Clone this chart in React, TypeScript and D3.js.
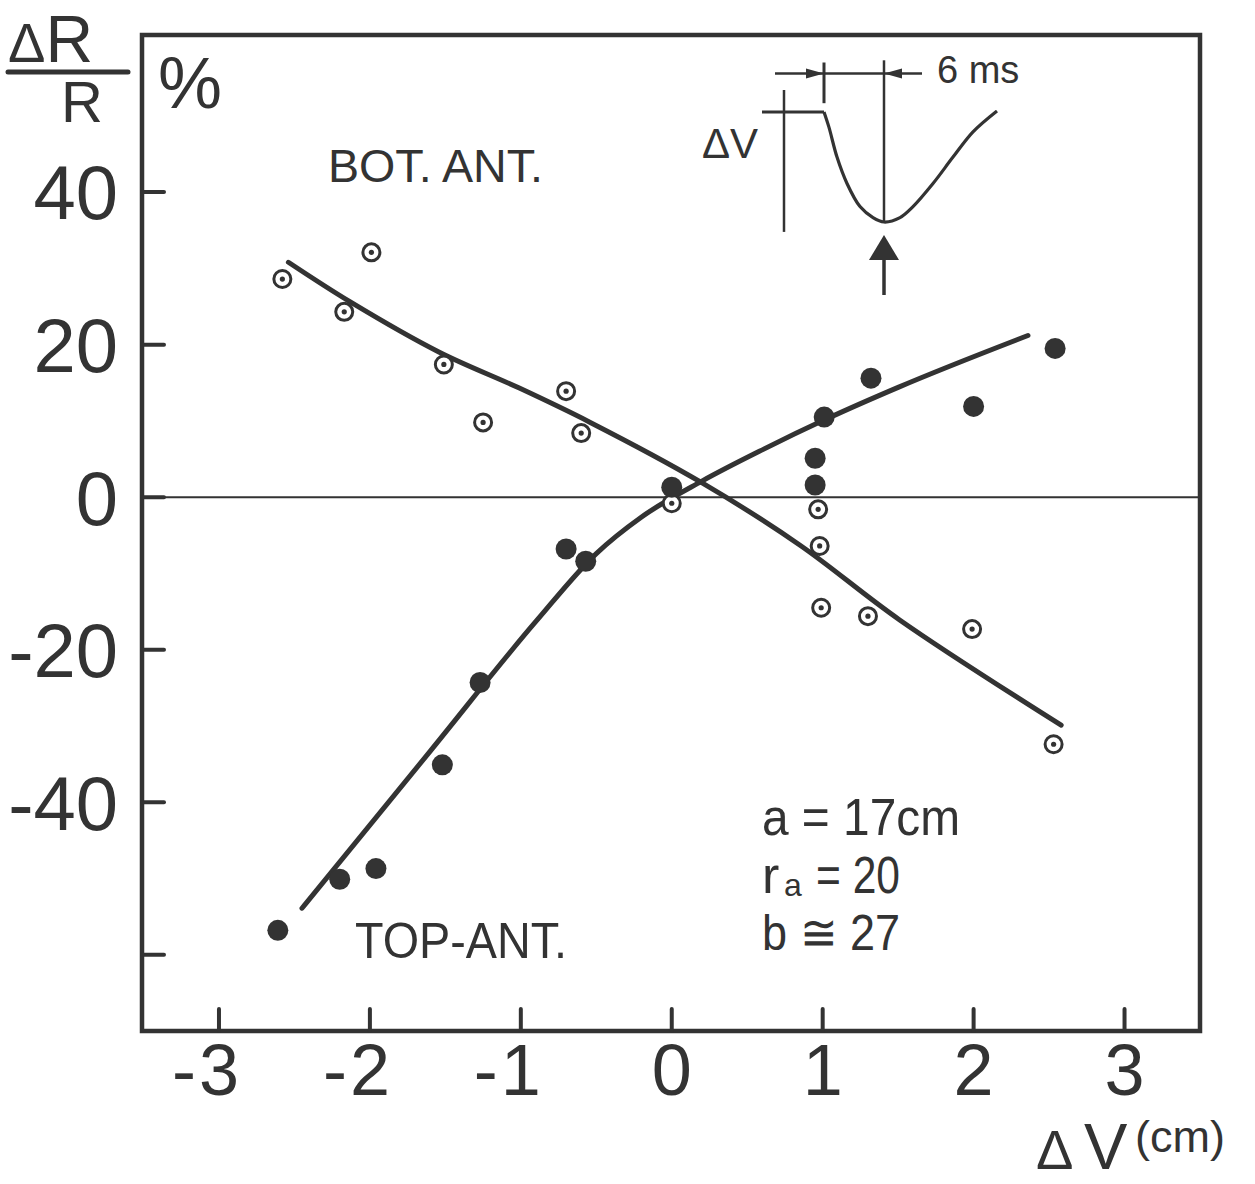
import React from 'react';
import * as d3 from 'd3';

// ---- data ----
const xTicks = [-3, -2, -1, 0, 1, 2, 3];
const yTicks = [40, 20, 0, -20, -40, -60];
const yTickLabels = ['40', '20', '0', '-20', '-40', ''];

// BOT. ANT. (open circles with centre dot)
const botX = [-2.58, -2.17, -1.99, -1.51, -1.25, -0.70, -0.60, 0.0, 0.97, 0.98, 0.99, 1.30, 1.99, 2.53];
const botY = [28.6, 24.3, 32.1, 17.4, 9.8, 13.9, 8.4, -0.8, -1.6, -6.4, -14.5, -15.6, -17.3, -32.4];

// TOP-ANT. (filled circles)
const topX = [-2.61, -2.20, -1.96, -1.52, -1.27, -0.70, -0.57, 0.0, 0.95, 0.95, 1.01, 1.32, 2.0, 2.54];
const topY = [-56.8, -50.1, -48.7, -35.1, -24.3, -6.8, -8.4, 1.3, 5.1, 1.6, 10.5, 15.6, 11.9, 19.5];

// hand-drawn fit curves
const botFitX = [-2.54, -2.13, -1.54, -1.01, -0.54, 0.19, 0.85, 1.51, 2.58];
const botFitY = [30.8, 25.6, 19.0, 14.3, 9.8, 2.0, -6.3, -16.1, -29.9];
const topFitX = [-2.45, -1.6, -0.9, -0.5, -0.2, 0.2, 0.6, 1.03, 1.5, 2.36];
const topFitY = [-53.9, -33.3, -16.3, -7.4, -2.6, 2.1, 6.2, 10.3, 14.4, 21.2];

// inset pulse sketch (time in ms, relative level)
const pulseT = [-6.2, 0, 0.5, 1.3, 2.3, 3.6, 4.9, 6, 7.6, 8.9, 10.9, 12.9, 14.9, 17.3];
const pulseV = [0, 0, -0.14, -0.41, -0.65, -0.86, -0.96, -1, -0.96, -0.86, -0.65, -0.41, -0.18, 0.01];

const INK = '#333';
const FONT = "'Liberation Sans', Arial, sans-serif";

export default function App() {
  const W = 1255, H = 1184;
  const left = 142, right = 1200, top = 35, bottom = 1031;
  const x = d3.scaleLinear().domain([-3.51, 3.5]).range([left, right]);
  const y = d3.scaleLinear().domain([-70, 60.6]).range([bottom, top]);

  const botLine = d3.line<[number, number]>()
    .x(d => x(d[0])).y(d => y(d[1]))
    .curve(d3.curveCatmullRom.alpha(0.5));
  const topLine = d3.line<[number, number]>()
    .x(d => x(d[0])).y(d => y(d[1]))
    .curve(d3.curveMonotoneX);
  const botFit = botLine(botFitX.map((v, i) => [v, botFitY[i]]));
  const topFit = topLine(topFitX.map((v, i) => [v, topFitY[i]]));

  // inset scales
  const ix = d3.scaleLinear().domain([0, 6]).range([824, 884]);
  const iy = d3.scaleLinear().domain([0, -1]).range([112, 222]);
  const pulseLine = d3.line<[number, number]>()
    .x(d => ix(d[0])).y(d => iy(d[1]))
    .curve(d3.curveCatmullRom.alpha(0.5));
  const stepPath = `M${ix(pulseT[0])},${iy(pulseV[0])}L${ix(pulseT[1])},${iy(pulseV[1])}`;
  const pulsePath = pulseLine(pulseT.slice(1).map((t, i) => [t, pulseV[i + 1]]));

  const tickLen = 22;
  const dimY = iy(0.35);

  return (
    <svg width={W} height={H} style={{ position: 'absolute', left: 0, top: 0, display: 'block', background: '#fff' }}
      fontFamily={FONT} fill={INK}>
      <rect x={0} y={0} width={W} height={H} fill="#fff" />

      {/* zero line */}
      <line x1={left} x2={right} y1={y(0)} y2={y(0)} stroke={INK} strokeWidth={2} />

      {/* frame */}
      <rect x={left} y={top} width={right - left} height={bottom - top} fill="none" stroke={INK} strokeWidth={4.5} />

      {/* ticks */}
      {yTicks.map(t => (
        <line key={'yt' + t} x1={left} x2={left + tickLen} y1={y(t)} y2={y(t)} stroke={INK} strokeWidth={4} strokeLinecap="round" />
      ))}
      {xTicks.map(t => (
        <line key={'xt' + t} x1={x(t)} x2={x(t)} y1={bottom} y2={bottom - tickLen} stroke={INK} strokeWidth={4} strokeLinecap="round" />
      ))}

      {/* y tick labels */}
      {yTicks.map((t, i) => (
        <text key={'yl' + t} x={118} y={y(t)} dy="0.36em" textAnchor="end" fontSize={76}>{yTickLabels[i]}</text>
      ))}
      {/* x tick labels */}
      {xTicks.map(t => (
        <g key={'xl' + t}>
          <text x={x(t)} y={1095} textAnchor="middle" fontSize={72}>{Math.abs(t)}</text>
          {t < 0 && <text x={x(t) - 23} y={1095} textAnchor="end" fontSize={72}>-</text>}
        </g>
      ))}

      {/* y axis title */}
      <text x={8} y={62} fontSize={66}><tspan fontSize={56}>Δ</tspan>R</text>
      <line x1={8} x2={128} y1={72} y2={72} stroke={INK} strokeWidth={5} strokeLinecap="round" />
      <text x={82} y={122} textAnchor="middle" fontSize={58}>R</text>
      <text x={158} y={108} fontSize={72}>%</text>

      {/* x axis title */}
      <text x={1036} y={1169} fontSize={56}>Δ</text>
      <text x={1084} y={1169} fontSize={65}>V</text>
      <text x={1135} y={1152} fontSize={45}>(cm)</text>

      {/* fit curves */}
      <path d={botFit || ''} fill="none" stroke={INK} strokeWidth={5} strokeLinecap="round" />
      <path d={topFit || ''} fill="none" stroke={INK} strokeWidth={5} strokeLinecap="round" />

      {/* BOT. ANT. points */}
      {botX.map((v, i) => (
        <g key={'b' + i}>
          <circle cx={x(v)} cy={y(botY[i])} r={8.5} fill="#fff" stroke={INK} strokeWidth={3} />
          <circle cx={x(v)} cy={y(botY[i])} r={2.6} fill={INK} />
        </g>
      ))}
      {/* TOP-ANT. points */}
      {topX.map((v, i) => (
        <circle key={'t' + i} cx={x(v)} cy={y(topY[i])} r={10.5} fill={INK} />
      ))}

      {/* labels */}
      <text x={328} y={182} fontSize={46} textLength={215} lengthAdjust="spacingAndGlyphs">BOT. ANT.</text>
      <text x={355} y={958} fontSize={50} textLength={212} lengthAdjust="spacingAndGlyphs">TOP-ANT.</text>

      <text x={762} y={835} fontSize={52} textLength={198} lengthAdjust="spacingAndGlyphs">a = 17cm</text>
      <text x={762} y={893} fontSize={52}>r</text>
      <text x={784} y={896} fontSize={32}>a</text>
      <text x={816} y={893} fontSize={52} textLength={84} lengthAdjust="spacingAndGlyphs">= 20</text>
      <text x={762} y={950} fontSize={50} textLength={138} lengthAdjust="spacingAndGlyphs">b ≅ 27</text>

      {/* inset sketch */}
      <line x1={ix(-4)} x2={ix(-4)} y1={iy(0.2)} y2={iy(-1.09)} stroke={INK} strokeWidth={2.5} />
      <path d={stepPath} fill="none" stroke={INK} strokeWidth={3} />
      <path d={pulsePath || ''} fill="none" stroke={INK} strokeWidth={3.2} />
      <line x1={ix(0)} x2={ix(0)} y1={iy(0.45)} y2={iy(0.08)} stroke={INK} strokeWidth={3} />
      <line x1={ix(6)} x2={ix(6)} y1={iy(0.47)} y2={iy(-1)} stroke={INK} strokeWidth={2.5} />
      <line x1={ix(-4.9)} x2={ix(9.8)} y1={dimY} y2={dimY} stroke={INK} strokeWidth={2.5} />
      <path d={`M${ix(0)},${dimY}L${ix(-1.8)},${dimY - 5}L${ix(-1.8)},${dimY + 5}Z`} fill={INK} />
      <path d={`M${ix(6)},${dimY}L${ix(7.8)},${dimY - 5}L${ix(7.8)},${dimY + 5}Z`} fill={INK} />
      <text x={937} y={83} fontSize={38}>6 ms</text>
      <text x={702} y={158} fontSize={42}>ΔV</text>
      {/* arrow up */}
      <line x1={ix(6)} x2={ix(6)} y1={255} y2={295} stroke={INK} strokeWidth={3.5} />
      <path d={`M${ix(6)},235L${ix(6) - 15},260L${ix(6) + 15},260Z`} fill={INK} />
    </svg>
  );
}
